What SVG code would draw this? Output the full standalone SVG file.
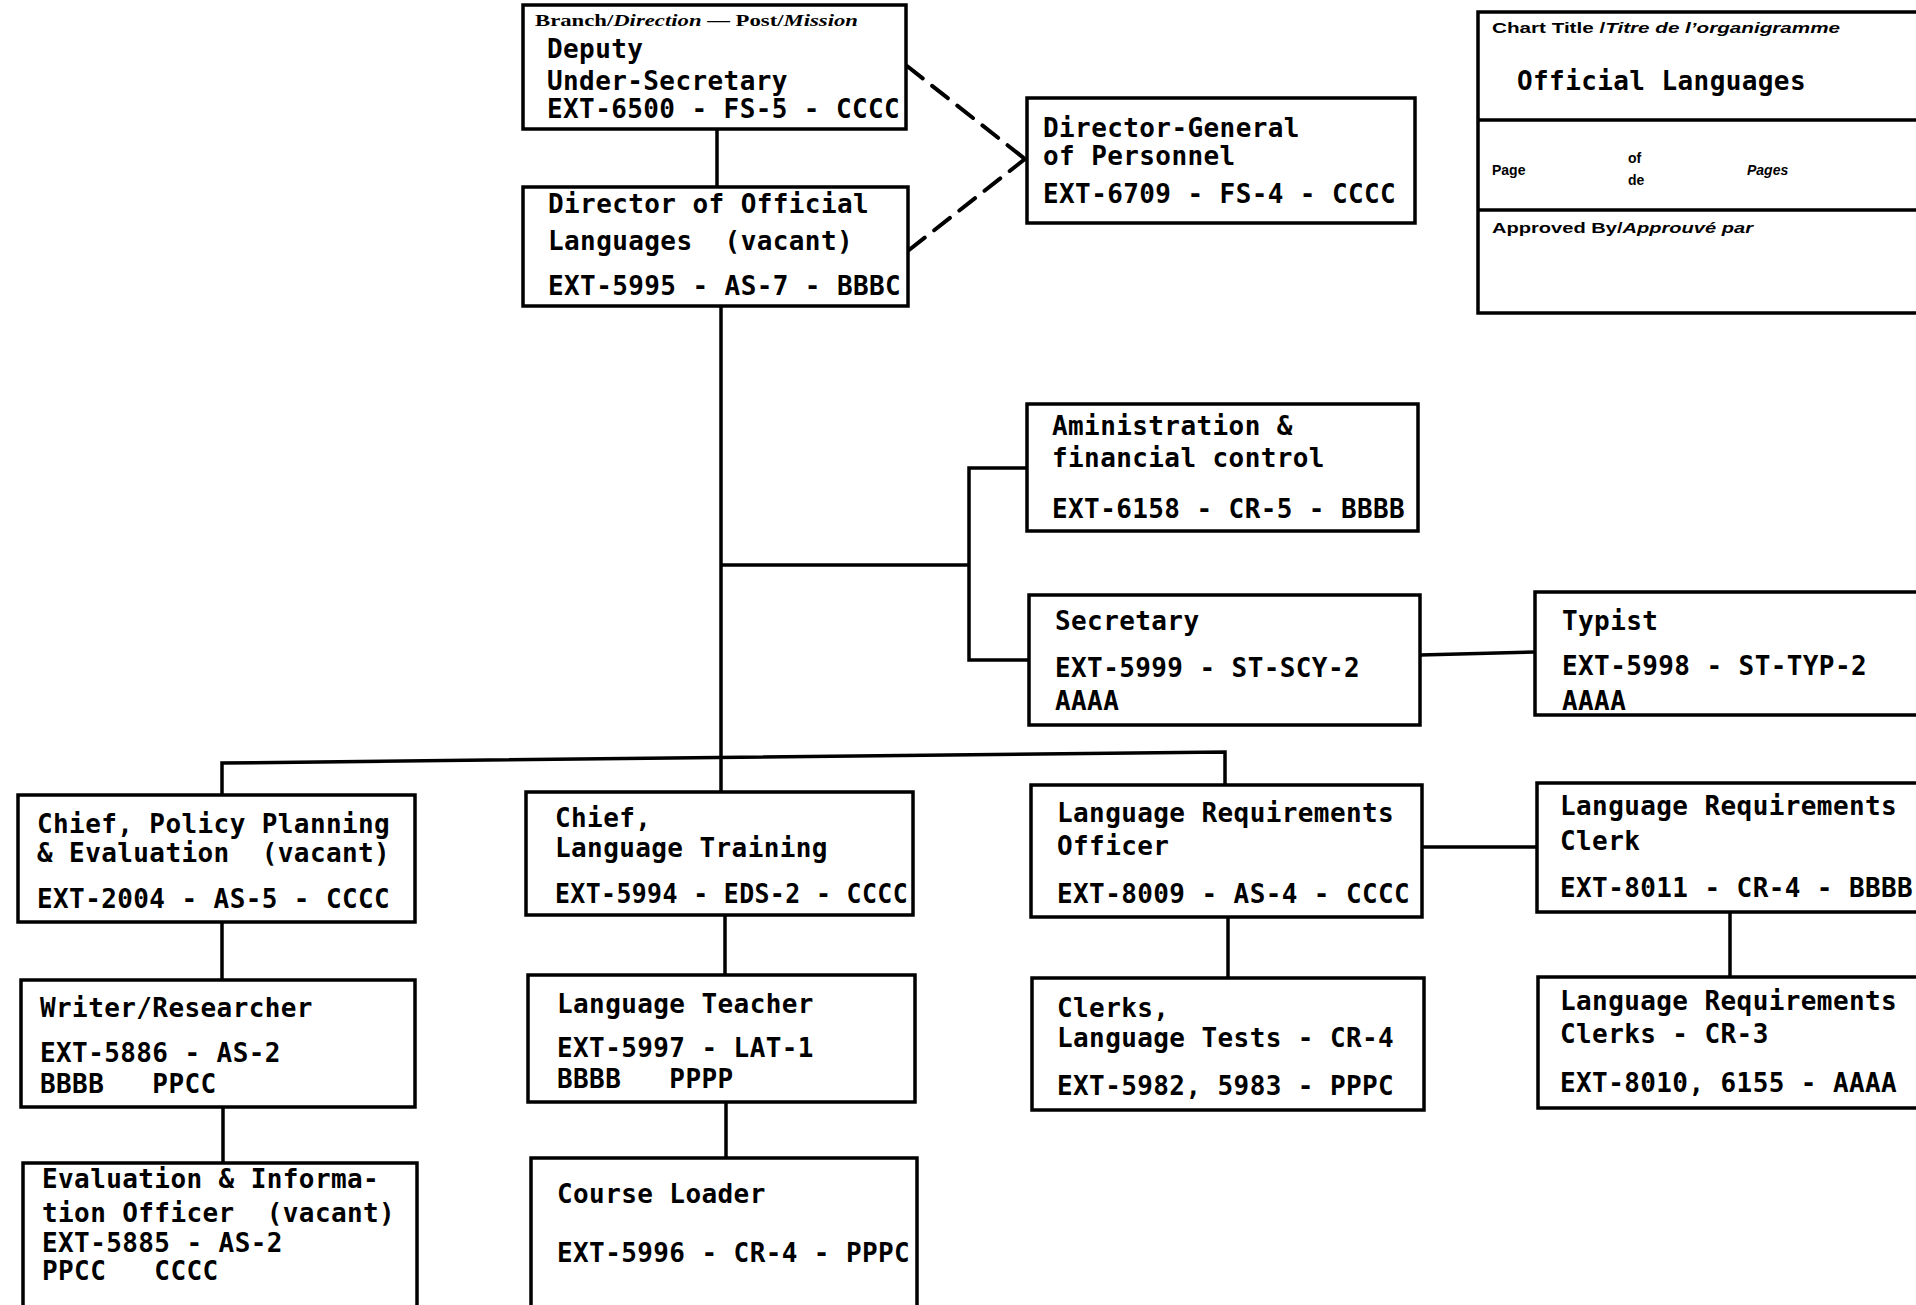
<svg xmlns="http://www.w3.org/2000/svg" width="1916" height="1305" viewBox="0 0 1916 1305">
<style>
.box{fill:#fff;stroke:#000;stroke-width:3.5}
.ln{fill:none;stroke:#000;stroke-width:3.5}
.dash{fill:none;stroke:#000;stroke-width:4;stroke-dasharray:20 12;stroke-linecap:round}
.t{font-family:"DejaVu Sans Mono",monospace;font-size:26px;font-weight:bold;letter-spacing:0.4px;fill:#000;white-space:pre}
.h{font-family:"Liberation Serif",serif;font-size:16px;font-weight:bold;fill:#000}
.s{font-family:"Liberation Sans",sans-serif;font-size:14px;font-weight:bold;fill:#000}
.i{font-style:italic}
</style>
<rect x="0" y="0" width="1916" height="1305" fill="#fff"/>

<g id="connectors">
<line class="ln" x1="717" y1="129" x2="717" y2="187"/>
<line class="ln" x1="721" y1="306" x2="721" y2="792"/>
<line class="ln" x1="721" y1="565" x2="969" y2="565"/>
<polyline class="ln" points="1027,468 969,468 969,660 1029,660"/>
<line class="ln" x1="1420" y1="655" x2="1535" y2="652"/>
<polyline class="ln" points="222,795 222,763 1225,752 1225,785"/>
<line class="ln" x1="222" y1="922" x2="222" y2="980"/>
<line class="ln" x1="223" y1="1107" x2="223" y2="1163"/>
<line class="ln" x1="725" y1="915" x2="725" y2="975"/>
<line class="ln" x1="726" y1="1102" x2="726" y2="1158"/>
<line class="ln" x1="1422" y1="847" x2="1537" y2="847"/>
<line class="ln" x1="1228" y1="917" x2="1228" y2="978"/>
<line class="ln" x1="1730" y1="912" x2="1730" y2="977"/>
<line class="dash" x1="907" y1="66" x2="1025" y2="159"/>
<line class="dash" x1="909" y1="250" x2="1025" y2="159"/>
</g>

<g id="chart-title">
<rect class="box" x="1478" y="12" width="460" height="301"/>
<line class="ln" x1="1478" y1="120" x2="1930" y2="120"/>
<line class="ln" x1="1478" y1="210" x2="1930" y2="210"/>
<text class="s" x="1492" y="33" textLength="348" lengthAdjust="spacingAndGlyphs">Chart Title /<tspan class="i">Titre de l’organigramme</tspan></text>
<text class="t" x="1517" y="90">Official Languages</text>
<text class="s" x="1492" y="175">Page</text>
<text class="s" x="1628" y="163">of</text>
<text class="s" x="1628" y="185">de</text>
<text class="s i" x="1747" y="175">Pages</text>
<text class="s" x="1492" y="233" textLength="261" lengthAdjust="spacingAndGlyphs">Approved By/<tspan class="i">Approuvé par</tspan></text>
</g>

<g id="deputy">
<rect class="box" x="523" y="5" width="383" height="124"/>
<text class="h" x="535" y="26" textLength="323" lengthAdjust="spacingAndGlyphs">Branch/<tspan class="i">Direction</tspan> — Post/<tspan class="i">Mission</tspan></text>
<text class="t" x="547" y="58">Deputy</text>
<text class="t" x="547" y="90">Under-Secretary</text>
<text class="t" x="547" y="118">EXT-6500 - FS-5 - CCCC</text>
</g>

<g id="director">
<rect class="box" x="523" y="187" width="385" height="119"/>
<text class="t" x="548" y="213">Director of Official</text>
<text class="t" x="548" y="250">Languages&#160; (vacant)</text>
<text class="t" x="548" y="295">EXT-5995 - AS-7 - BBBC</text>
</g>

<g id="dg-personnel">
<rect class="box" x="1027" y="98" width="388" height="125"/>
<text class="t" x="1043" y="137">Director-General</text>
<text class="t" x="1043" y="165">of Personnel</text>
<text class="t" x="1043" y="203">EXT-6709 - FS-4 - CCCC</text>
</g>

<g id="administration">
<rect class="box" x="1027" y="404" width="391" height="127"/>
<text class="t" x="1052" y="435">Aministration &amp;</text>
<text class="t" x="1052" y="467">financial control</text>
<text class="t" x="1052" y="518">EXT-6158 - CR-5 - BBBB</text>
</g>

<g id="secretary">
<rect class="box" x="1029" y="595" width="391" height="130"/>
<text class="t" x="1055" y="630">Secretary</text>
<text class="t" x="1055" y="677">EXT-5999 - ST-SCY-2</text>
<text class="t" x="1055" y="710">AAAA</text>
</g>

<g id="typist">
<rect class="box" x="1535" y="592" width="400" height="123"/>
<text class="t" x="1562" y="630">Typist</text>
<text class="t" x="1562" y="675">EXT-5998 - ST-TYP-2</text>
<text class="t" x="1562" y="710">AAAA</text>
</g>

<g id="chief-policy">
<rect class="box" x="18" y="795" width="397" height="127"/>
<text class="t" x="37" y="833">Chief, Policy Planning</text>
<text class="t" x="37" y="862">&amp; Evaluation&#160; (vacant)</text>
<text class="t" x="37" y="908">EXT-2004 - AS-5 - CCCC</text>
</g>

<g id="writer">
<rect class="box" x="21" y="980" width="394" height="127"/>
<text class="t" x="40" y="1017">Writer/Researcher</text>
<text class="t" x="40" y="1062">EXT-5886 - AS-2</text>
<text class="t" x="40" y="1093">BBBB&#160;&#160; PPCC</text>
</g>

<g id="evaluation">
<rect class="box" x="23" y="1163" width="394" height="160"/>
<text class="t" x="42" y="1188">Evaluation &amp; Informa-</text>
<text class="t" x="42" y="1222">tion Officer&#160; (vacant)</text>
<text class="t" x="42" y="1252">EXT-5885 - AS-2</text>
<text class="t" x="42" y="1280">PPCC&#160;&#160; CCCC</text>
</g>

<g id="chief-training">
<rect class="box" x="526" y="792" width="387" height="123"/>
<text class="t" x="555" y="827">Chief,</text>
<text class="t" x="555" y="857">Language Training</text>
<text class="t" x="555" y="903" textLength="353" lengthAdjust="spacingAndGlyphs">EXT-5994 - EDS-2 - CCCC</text>
</g>

<g id="teacher">
<rect class="box" x="528" y="975" width="387" height="127"/>
<text class="t" x="557" y="1013">Language Teacher</text>
<text class="t" x="557" y="1057">EXT-5997 - LAT-1</text>
<text class="t" x="557" y="1088">BBBB&#160;&#160; PPPP</text>
</g>

<g id="course-loader">
<rect class="box" x="531" y="1158" width="386" height="165"/>
<text class="t" x="557" y="1203">Course Loader</text>
<text class="t" x="557" y="1262">EXT-5996 - CR-4 - PPPC</text>
</g>

<g id="lr-officer">
<rect class="box" x="1031" y="785" width="391" height="132"/>
<text class="t" x="1057" y="822">Language Requirements</text>
<text class="t" x="1057" y="855">Officer</text>
<text class="t" x="1057" y="903">EXT-8009 - AS-4 - CCCC</text>
</g>

<g id="clerks-tests">
<rect class="box" x="1032" y="978" width="392" height="132"/>
<text class="t" x="1057" y="1017">Clerks,</text>
<text class="t" x="1057" y="1047">Language Tests - CR-4</text>
<text class="t" x="1057" y="1095">EXT-5982, 5983 - PPPC</text>
</g>

<g id="lr-clerk">
<rect class="box" x="1537" y="783" width="400" height="129"/>
<text class="t" x="1560" y="815">Language Requirements</text>
<text class="t" x="1560" y="850">Clerk</text>
<text class="t" x="1560" y="897">EXT-8011 - CR-4 - BBBB</text>
</g>

<g id="lr-clerks">
<rect class="box" x="1538" y="977" width="400" height="131"/>
<text class="t" x="1560" y="1010">Language Requirements</text>
<text class="t" x="1560" y="1043">Clerks - CR-3</text>
<text class="t" x="1560" y="1092">EXT-8010, 6155 - AAAA</text>
</g>
</svg>
